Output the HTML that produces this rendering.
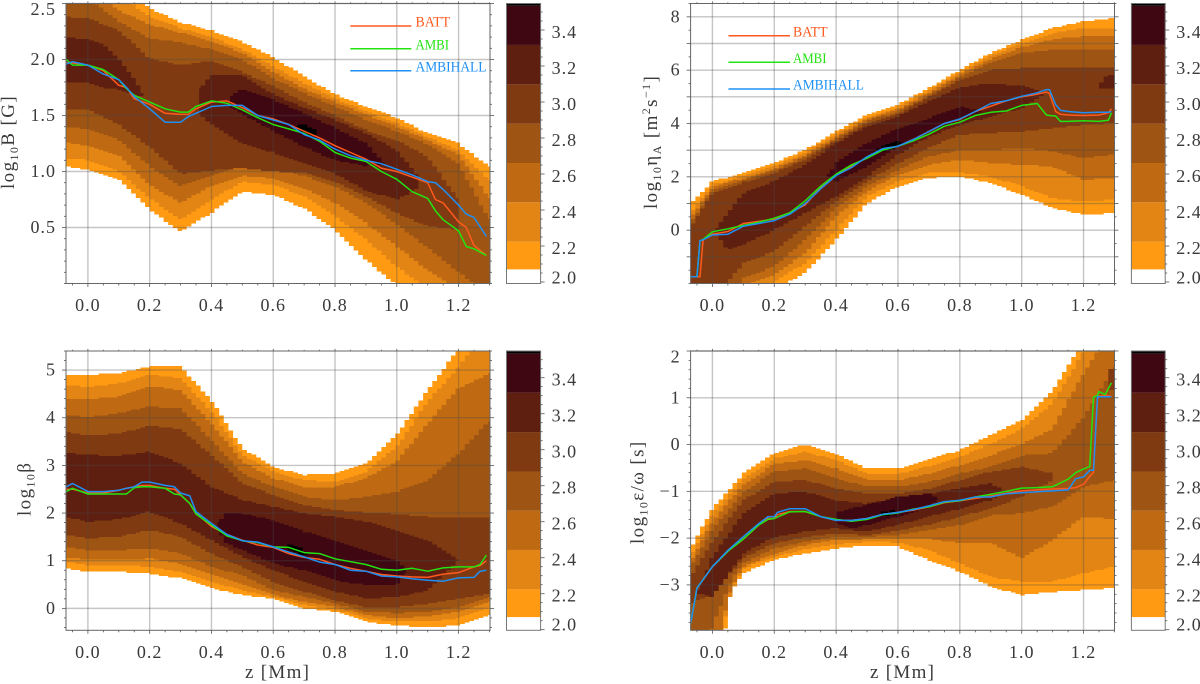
<!DOCTYPE html>
<html lang="en">
<head>
<meta charset="utf-8">
<title>Density histograms with BATT, AMBI and AMBIHALL profiles</title>
<style>
html,body{margin:0;padding:0;background:#fff;width:1200px;height:684px;overflow:hidden}
svg{display:block}
text{font-family:"Liberation Serif",serif;fill:#3a3a3a}
</style>
</head>
<body>
<svg id="figure" xmlns="http://www.w3.org/2000/svg" width="1200" height="684" viewBox="0 0 1200 684">
  <rect width="1200" height="684" fill="#fff"/>
  <text transform="translate(14,189) rotate(-90)" font-size="19" letter-spacing="1.4">log<tspan font-size="12" dy="4">10</tspan><tspan dy="-4">B [G]</tspan></text>
  <text transform="translate(656.8,209) rotate(-90)" font-size="19" letter-spacing="1.4">log<tspan font-size="12" dy="4">10</tspan><tspan dy="-4">η</tspan><tspan font-size="12" dy="4">A</tspan><tspan dy="-4"> [m</tspan><tspan font-size="12" dy="-7">2</tspan><tspan dy="7">s</tspan><tspan font-size="12" dy="-7">−1</tspan><tspan dy="7">]</tspan></text>
  <text transform="translate(30.7,516) rotate(-90)" font-size="19" letter-spacing="1.4">log<tspan font-size="12" dy="4">10</tspan><tspan dy="-4">β</tspan></text>
  <text transform="translate(643.4,544) rotate(-90)" font-size="19" letter-spacing="1.4">log<tspan font-size="12" dy="4">10</tspan><tspan dy="-4">ε/ω [s]</tspan></text>
  <text x="277" y="678" font-size="19" text-anchor="middle" textLength="64">z [Mm]</text>
  <text x="902" y="678" font-size="19" text-anchor="middle" textLength="64">z [Mm]</text>
</svg>
<script>
/* ---------- colour levels and colour-bar scale ---------- */
const levelColors = ['#ff9a12','#e28515','#bf6a12','#9e5412','#7f3a12','#5e1e10','#3f0712','#000000'];
const barEdges = [2.07,2.224,2.443,2.661,2.879,3.098,3.317,3.535,3.547];
const barTicks = [2.0,2.2,2.4,2.6,2.8,3.0,3.2,3.4];
const zTicks = [0,0.2,0.4,0.6,0.8,1.0,1.2];

/* ---------- panel 1: log10 B ---------- */
const tlGrid = [0.5,1,1.5,2,2.5];
const tlLabels = [0.5,1,1.5,2,2.5];
const tlZ = [-0.07,0,0.1,0.2,0.3,0.4,0.5,0.6,0.7,0.8,0.9,1.0,1.1,1.2,1.3];
const tlHi0 = [3.0,2.9,2.68,2.46,2.33,2.26,2.16,2.02,1.85,1.69,1.58,1.48,1.34,1.25,1.04];
const tlLo0 = [1.05,1.01,0.93,0.66,0.46,0.63,0.82,0.79,0.67,0.48,0.21,-0.02,-0.3,-0.5,-0.7];
const tlHi1 = [2.85,2.78,2.58,2.38,2.28,2.2,2.09,1.94,1.79,1.65,1.54,1.43,1.31,1.19,0.92];
const tlLo1 = [1.12,1.1,1.0,0.76,0.57,0.75,0.91,0.88,0.78,0.6,0.39,0.15,-0.05,-0.2,-0.4];
const tlHi2 = [2.75,2.68,2.44,2.31,2.24,2.16,2.06,1.89,1.74,1.62,1.51,1.4,1.28,1.15,0.76];
const tlLo2 = [1.26,1.23,1.14,0.88,0.72,0.87,0.96,0.94,0.85,0.72,0.54,0.33,0.12,-0.05,-0.2];
const tlHi3 = [2.6,2.55,2.34,2.19,2.15,2.09,2.0,1.83,1.7,1.58,1.46,1.36,1.24,1.07,0.56];
const tlLo3 = [1.4,1.38,1.28,1.05,0.87,0.96,1.05,1.03,0.96,0.87,0.72,0.53,0.32,0.1,-0.1];
const tlZ4 = [-0.07,0,0.1,0.2,0.3,0.4,0.5,0.6,0.7,0.8,0.9,1.0,1.1,1.2];
const tlHi4 = [2.38,2.37,2.26,2.01,1.95,1.99,1.89,1.76,1.62,1.5,1.37,1.28,1.13,0.75];
const tlLo4 = [1.56,1.55,1.42,1.22,0.98,1.01,1.03,1.0,0.99,0.91,0.78,0.63,0.51,0.48];
const tlZ5a = [-0.07,0,0.05,0.1,0.15,0.18];
const tlHi5a = [2.2,2.18,2.13,2.01,1.82,1.68];
const tlLo5a = [1.8,1.79,1.75,1.73,1.68,1.67];
const tlZ5b = [0.36,0.4,0.5,0.6,0.7,0.8,0.9,1.0,1.07];
const tlHi5b = [1.73,1.86,1.86,1.69,1.57,1.46,1.34,1.19,0.95];
const tlLo5b = [1.52,1.42,1.25,1.17,1.07,0.98,0.83,0.75,0.85];
const tlZ6 = [0.46,0.5,0.6,0.7,0.8,0.9,0.96];
const tlHi6 = [1.67,1.74,1.64,1.52,1.39,1.25,1.07];
const tlLo6 = [1.58,1.51,1.36,1.22,1.1,1.05,1.07];
const tlZ7 = [0.67,0.7,0.73,0.74];
const tlHi7 = [1.41,1.42,1.38,1.36];
const tlLo7 = [1.39,1.33,1.32,1.36];
const tlLineZ = [-0.07,-0.05,0,0.05,0.1,0.125,0.15,0.2,0.25,0.3,0.325,0.35,0.4,0.45,0.5,0.55,0.6,0.65,0.7,0.75,0.8,0.85,0.9,0.95,1.0,1.05,1.1,1.125,1.15,1.2,1.225,1.25,1.29];
const tlBatt = [1.97,1.97,1.95,1.9,1.77,1.75,1.65,1.6,1.52,1.51,1.51,1.56,1.62,1.63,1.57,1.5,1.47,1.42,1.36,1.3,1.23,1.17,1.11,1.03,1.0,0.95,0.9,0.75,0.72,0.55,0.5,0.34,0.25];
const tlAmbi = [2.0,1.95,1.95,1.91,1.82,1.74,1.68,1.62,1.56,1.53,1.53,1.58,1.63,1.61,1.55,1.48,1.42,1.38,1.34,1.27,1.17,1.12,1.09,1.0,0.93,0.82,0.76,0.65,0.57,0.47,0.33,0.31,0.25];
const tlHall = [1.96,1.98,1.95,1.87,1.82,1.75,1.67,1.56,1.44,1.44,1.49,1.52,1.58,1.59,1.59,1.5,1.46,1.42,1.33,1.28,1.2,1.14,1.1,1.07,1.02,0.97,0.91,0.9,0.84,0.7,0.62,0.59,0.42];

/* ---------- panel 2: log10 eta_A ---------- */
const trGrid = [-1,0,1,2,3,4,5,6,7,8];
const trLabels = [0,2,4,6,8];
const trZ = [-0.07,0,0.1,0.2,0.3,0.4,0.5,0.6,0.7,0.8,0.9,1.0,1.1,1.2,1.3];
const trHi0 = [1.01,1.83,2.14,2.51,3.01,3.7,4.33,4.7,5.33,6.01,6.64,7.14,7.58,7.83,7.95];
const trLo0 = [-3.9,-3.9,-3.9,-2.24,-1.61,-0.36,1.01,1.64,1.95,2.01,1.76,1.33,0.83,0.58,0.64];
const trHi1 = [0.64,1.7,2.04,2.41,2.91,3.6,4.24,4.61,5.24,5.91,6.54,7.01,7.39,7.58,7.58];
const trLo1 = [-3.9,-3.9,-3.9,-1.93,-1.24,0.01,1.26,1.83,2.14,2.16,2.01,1.64,1.2,1.08,1.14];
const trHi2 = [0.45,1.6,1.95,2.31,2.81,3.5,4.16,4.51,5.15,5.83,6.41,6.86,7.16,7.26,7.26];
const trLo2 = [-3.9,-3.9,-2.11,-1.68,-0.86,0.51,1.45,2.08,2.45,2.64,2.51,2.45,2.39,1.89,1.95];
const trHi3 = [0.26,1.49,1.89,2.24,2.74,3.43,4.09,4.44,5.06,5.74,6.29,6.64,6.76,6.76,6.76];
const trLo3 = [-3.9,-3.9,-1.8,-1.36,-0.36,0.83,1.64,2.26,2.76,3.01,3.01,3.08,2.95,2.7,2.83];
const trHi4 = [0.14,1.39,1.79,2.14,2.64,3.35,4.01,4.36,4.99,5.64,6.01,6.08,6.08,6.08,6.08];
const trLo4 = [-3.9,-2.6,-1.24,-0.8,0.14,1.08,1.83,2.51,3.08,3.58,3.64,3.7,3.83,3.95,4.01];
const trZ5a = [0.01,0.05,0.1,0.2,0.3,0.4,0.5,0.6,0.7,0.8,0.9,1.0,1.08];
const trHi5a = [0.01,0.64,1.39,1.83,2.45,3.26,3.89,4.26,4.83,5.36,5.51,5.41,5.16];
const trLo5a = [-0.11,-0.74,-0.55,0.01,0.64,1.26,2.01,2.83,3.51,3.95,4.26,4.58,5.16];
const trZ5b = [1.25,1.27,1.3];
const trHi5b = [5.4,5.75,5.85];
const trLo5b = [5.3,5.3,5.3];
const trZ6 = [0.37,0.4,0.5,0.6,0.7,0.8,0.87];
const trHi6 = [2.01,2.51,3.26,3.83,4.2,4.64,4.45];
const trLo6 = [2.01,1.83,2.39,3.14,3.7,4.08,4.45];
const trZ7 = [0.52,0.55,0.6,0.62];
const trHi7 = [2.89,3.14,3.33,3.3];
const trLo7 = [2.89,2.95,3.1,3.3];
const trLineZ = [-0.07,-0.05,-0.04,-0.03,0,0.05,0.1,0.15,0.2,0.25,0.3,0.35,0.4,0.45,0.5,0.55,0.6,0.65,0.7,0.75,0.8,0.85,0.9,0.95,1.0,1.05,1.08,1.09,1.11,1.125,1.15,1.2,1.25,1.28,1.29];
const trBatt = [-1.75,-1.75,-1.75,-0.35,-0.15,-0.05,0.25,0.33,0.42,0.65,0.95,1.6,2.05,2.4,2.72,3.05,3.15,3.4,3.7,4.0,4.15,4.45,4.65,4.85,5.0,5.1,5.18,5.12,4.45,4.35,4.32,4.3,4.32,4.4,4.55];
const trAmbi = [-1.75,-1.75,-0.4,-0.35,-0.06,0.05,0.18,0.3,0.45,0.65,1.1,1.65,2.1,2.45,2.7,3.0,3.15,3.35,3.6,3.9,4.05,4.3,4.42,4.47,4.68,4.75,4.32,4.3,4.28,4.08,4.08,4.1,4.08,4.12,4.4];
const trHall = [-1.75,-1.75,-0.39,-0.36,-0.18,-0.15,0.15,0.25,0.36,0.6,1.0,1.55,2.05,2.35,2.75,3.05,3.15,3.4,3.7,4.0,4.17,4.45,4.75,4.85,5.02,5.15,5.27,5.27,4.7,4.5,4.45,4.4,4.42,4.42,4.45];

/* ---------- panel 3: log10 beta ---------- */
const blGrid = [0,1,2,3,4,5];
const blLabels = [0,1,2,3,4,5];
const blZ = [-0.07,0,0.1,0.2,0.3,0.4,0.5,0.6,0.7,0.8,0.9,1.0,1.1,1.2,1.3];
const blHi0 = [4.9,4.9,4.94,5.07,5.07,4.37,3.36,2.97,2.8,2.83,3.04,3.64,4.58,5.45,5.8];
const blLo0 = [0.84,0.77,0.77,0.73,0.63,0.42,0.28,0.21,0,-0.07,-0.28,-0.36,-0.4,-0.36,-0.14];
const blHi1 = [4.69,4.65,4.72,4.9,4.83,4.13,3.22,2.87,2.69,2.66,2.87,3.39,4.34,5.07,5.9];
const blLo1 = [0.98,0.91,0.91,0.87,0.77,0.56,0.38,0.24,0.07,-0.02,-0.21,-0.28,-0.28,-0.21,0.03];
const blHi2 = [4.41,4.39,4.44,4.66,4.58,3.88,3.08,2.73,2.55,2.55,2.73,3.08,3.88,4.62,4.93];
const blLo2 = [1.08,1.01,1.01,1.05,0.94,0.7,0.52,0.28,0.14,0.03,-0.14,-0.21,-0.17,-0.07,0.14];
const blHi3 = [4.06,4.01,4.1,4.23,4.2,3.53,2.83,2.55,2.34,2.27,2.34,2.45,2.69,3.25,3.95];
const blLo3 = [1.29,1.22,1.22,1.26,1.15,0.87,0.7,0.38,0.24,0.1,-0.07,-0.1,-0.07,0.03,0.24];
const blHi4 = [3.71,3.62,3.67,3.83,3.76,3.22,2.62,2.38,2.17,2.06,2.01,1.98,1.92,1.92,1.92];
const blLo4 = [1.54,1.47,1.5,1.64,1.5,1.15,0.87,0.56,0.35,0.17,0.03,0.03,0.1,0.21,0.31];
const blZ5 = [-0.07,0,0.1,0.2,0.3,0.4,0.5,0.6,0.7,0.8,0.9,1.0,1.1,1.2];
const blHi5 = [3.27,3.22,3.2,3.29,3.04,2.55,2.27,2.13,1.99,1.92,1.82,1.64,1.43,1.01];
const blLo5 = [1.92,1.82,1.87,2.03,1.78,1.43,1.08,0.8,0.56,0.35,0.21,0.24,0.38,1.01];
const blZ6 = [0.42,0.45,0.5,0.6,0.7,0.8,0.9,1.0,1.03];
const blHi6 = [1.78,2.01,1.99,1.85,1.61,1.43,1.22,1.01,0.8];
const blLo6 = [1.64,1.36,1.22,0.94,0.8,0.59,0.49,0.49,0.75];
const blZ7 = [0.645,0.66,0.69,0.71];
const blHi7 = [1.35,1.35,1.26,1.15];
const blLo7 = [1.26,1.22,1.12,1.1];
const blLineZ = [-0.07,-0.05,0,0.05,0.1,0.125,0.15,0.175,0.2,0.25,0.28,0.3,0.33,0.35,0.4,0.45,0.5,0.55,0.6,0.65,0.7,0.75,0.8,0.85,0.9,0.95,1.0,1.05,1.1,1.15,1.2,1.25,1.27,1.29];
const blBatt = [2.5,2.5,2.42,2.42,2.48,2.52,2.55,2.58,2.58,2.52,2.5,2.38,2.2,2.0,1.72,1.55,1.43,1.33,1.28,1.15,1.07,1.03,0.92,0.84,0.78,0.71,0.68,0.66,0.65,0.72,0.75,0.87,0.9,1.0];
const blAmbi = [2.45,2.52,2.4,2.4,2.4,2.4,2.53,2.55,2.55,2.52,2.4,2.38,2.2,1.98,1.75,1.52,1.42,1.38,1.29,1.28,1.17,1.15,1.04,0.98,0.92,0.82,0.8,0.84,0.78,0.85,0.87,0.87,0.92,1.12];
const blHall = [2.55,2.62,2.45,2.45,2.48,2.52,2.55,2.65,2.65,2.58,2.55,2.42,2.36,2.03,1.78,1.55,1.42,1.39,1.29,1.18,1.08,0.97,0.92,0.8,0.78,0.68,0.66,0.62,0.59,0.57,0.64,0.65,0.78,0.8];

/* ---------- panel 4: log10 epsilon/omega ---------- */
const brGrid = [-3,-2,-1,0,1,2];
const brLabels = [-3,-2,-1,0,1,2];
const brZ = [-0.07,0,0.1,0.2,0.3,0.4,0.5,0.6,0.7,0.8,0.9,1.0,1.1,1.2,1.3];
const brZLo = [-0.07,0.03,0.05,0.07,0.1,0.2,0.3,0.4,0.5,0.6,0.7,0.8,0.9,1.0,1.1,1.2,1.3];
const brHi0 = [-2.22,-1.37,-0.62,-0.19,0,-0.19,-0.51,-0.51,-0.32,-0.12,0.2,0.52,1.16,2.2,3.0];
const brLo0 = [-6,-5,-3.3,-3.05,-2.75,-2.47,-2.33,-2.22,-2.15,-2.18,-2.47,-2.72,-3.04,-3.22,-3.15,-3.11,-3.07];
const brHi1 = [-2.4,-1.51,-0.73,-0.3,-0.16,-0.33,-0.62,-0.63,-0.46,-0.26,0.02,0.34,0.88,1.99,2.94];
const brLo1 = [-6,-4.1,-3.4,-3.0,-2.65,-2.4,-2.24,-2.13,-2.08,-2.09,-2.26,-2.54,-2.83,-2.93,-2.93,-2.75,-2.61];
const brHi2 = [-2.5,-1.65,-0.85,-0.42,-0.33,-0.51,-0.75,-0.76,-0.62,-0.44,-0.23,0.02,0.34,1.52,2.58];
const brLo2 = [-6,-3.97,-3.3,-2.95,-2.61,-2.33,-2.15,-2.04,-2.02,-2.01,-2.01,-2.11,-2.11,-2.43,-2.04,-1.54,-1.6];
const brHi3 = [-2.61,-1.83,-1.01,-0.58,-0.51,-0.73,-0.9,-0.9,-0.8,-0.62,-0.48,-0.23,-0.19,0.59,1.66];
const brLo3 = [-5,-3.4,-3.05,-2.8,-2.53,-2.22,-2.08,-1.97,-1.97,-1.94,-1.83,-1.72,-1.51,-1.47,-1.33,-0.9,-0.76];
const brZ4 = [-0.07,0,0.1,0.2,0.3,0.4,0.5,0.6,0.7,0.8,0.9,1.0,1.1];
const brHi4 = [-2.83,-2.08,-1.19,-0.8,-0.76,-0.94,-1.05,-1.05,-0.94,-0.76,-0.58,-0.48,-0.62];
const brLo4 = [-3.4,-3.2,-2.43,-2.11,-1.97,-1.9,-1.94,-1.83,-1.72,-1.54,-1.37,-1.12,-0.76];
const brZ4b = [1.28,1.3];
const brHi4b = [1.62,1.62];
const brLo4b = [1.16,1.16];
const brZ5 = [-0.05,0,0.1,0.2,0.3,0.4,0.5,0.6,0.7,0.8,0.9,0.95];
const brHi5 = [-3.18,-2.4,-1.47,-1.05,-1.01,-1.19,-1.26,-1.15,-1.05,-0.94,-0.83,-1.01];
const brLo5 = [-3.18,-3.25,-2.33,-1.97,-1.86,-1.79,-1.86,-1.72,-1.54,-1.37,-1.19,-1.01];
const brZ6 = [0.4,0.45,0.5,0.6,0.7,0.73];
const brHi6 = [-1.44,-1.37,-1.29,-1.12,-1.05,-1.15];
const brLo6 = [-1.69,-1.79,-1.72,-1.54,-1.33,-1.15];
const brZ7 = [0.53,0.55,0.58,0.6];
const brHi7 = [-1.51,-1.44,-1.4,-1.44];
const brLo7 = [-1.51,-1.54,-1.51,-1.44];
const brLineZ = [-0.07,-0.05,0,0.05,0.1,0.15,0.18,0.2,0.21,0.25,0.3,0.35,0.4,0.45,0.5,0.55,0.6,0.65,0.7,0.75,0.8,0.85,0.9,0.95,1.0,1.05,1.1,1.15,1.175,1.2,1.22,1.232,1.245,1.25,1.27,1.29];
const brBatt = [-3.82,-3.07,-2.61,-2.28,-2.02,-1.72,-1.58,-1.58,-1.5,-1.43,-1.43,-1.54,-1.62,-1.62,-1.58,-1.49,-1.45,-1.4,-1.33,-1.24,-1.2,-1.15,-1.1,-1.04,-0.99,-0.97,-0.95,-0.94,-0.92,-0.85,-0.68,-0.6,1.0,1.03,1.05,1.03];
const brAmbi = [-3.82,-3.07,-2.61,-2.28,-2.02,-1.72,-1.6,-1.58,-1.55,-1.44,-1.43,-1.54,-1.6,-1.64,-1.6,-1.5,-1.46,-1.38,-1.33,-1.23,-1.2,-1.12,-1.06,-1.0,-0.93,-0.92,-0.9,-0.74,-0.6,-0.52,-0.47,1.01,1.05,1.13,1.07,1.32];
const brHall = [-3.82,-3.07,-2.61,-2.26,-1.97,-1.69,-1.54,-1.54,-1.45,-1.37,-1.37,-1.54,-1.62,-1.62,-1.58,-1.49,-1.45,-1.39,-1.31,-1.22,-1.19,-1.12,-1.12,-1.05,-1.03,-1.01,-0.99,-0.97,-0.73,-0.69,-0.55,-0.55,1.02,1.02,1.02,1.02];

/* ---------- panel layout and series wiring ---------- */
const panels = [
 {key:'log-b',left:66,right:490,z0:87.9,zs:308.9,top:3.5,bottom:283.5,ymin:0,ymax:2.5,minor:0.1,dec:1,grid:tlGrid,labels:tlLabels,barL:506.5,barR:540.6,barTick3:30,
  bands:[[0,tlZ,tlHi0,tlZ,tlLo0],[1,tlZ,tlHi1,tlZ,tlLo1],[2,tlZ,tlHi2,tlZ,tlLo2],[3,tlZ,tlHi3,tlZ,tlLo3],[4,tlZ4,tlHi4,tlZ4,tlLo4],[5,tlZ5a,tlHi5a,tlZ5a,tlLo5a],[5,tlZ5b,tlHi5b,tlZ5b,tlLo5b],[6,tlZ6,tlHi6,tlZ6,tlLo6],[7,tlZ7,tlHi7,tlZ7,tlLo7]],
  lineZ:tlLineZ,batt:tlBatt,ambi:tlAmbi,hall:tlHall},
 {key:'log-eta',left:690.6,right:1114.5,z0:712.4,zs:309.3,top:3.5,bottom:283.5,ymin:-2,ymax:8.5,minor:0.5,dec:0,grid:trGrid,labels:trLabels,barL:1131.4,barR:1165.2,barTick3:30,
  bands:[[0,trZ,trHi0,trZ,trLo0],[1,trZ,trHi1,trZ,trLo1],[2,trZ,trHi2,trZ,trLo2],[3,trZ,trHi3,trZ,trLo3],[4,trZ,trHi4,trZ,trLo4],[5,trZ5a,trHi5a,trZ5a,trLo5a],[5,trZ5b,trHi5b,trZ5b,trLo5b],[6,trZ6,trHi6,trZ6,trLo6],[7,trZ7,trHi7,trZ7,trLo7]],
  lineZ:trLineZ,batt:trBatt,ambi:trAmbi,hall:trHall},
 {key:'log-beta',left:66,right:490,z0:87.9,zs:308.9,top:351,bottom:630.3,ymin:-0.46,ymax:5.4,minor:0.2,dec:0,grid:blGrid,labels:blLabels,barL:506.5,barR:540.6,barTick3:377.7,
  bands:[[0,blZ,blHi0,blZ,blLo0],[1,blZ,blHi1,blZ,blLo1],[2,blZ,blHi2,blZ,blLo2],[3,blZ,blHi3,blZ,blLo3],[4,blZ,blHi4,blZ,blLo4],[5,blZ5,blHi5,blZ5,blLo5],[6,blZ6,blHi6,blZ6,blLo6],[7,blZ7,blHi7,blZ7,blLo7]],
  lineZ:blLineZ,batt:blBatt,ambi:blAmbi,hall:blHall},
 {key:'log-epsilon-omega',left:690.6,right:1114.5,z0:712.4,zs:309.3,top:351,bottom:630.3,ymin:-3.97,ymax:2,minor:0.2,dec:0,grid:brGrid,labels:brLabels,barL:1131.4,barR:1165.2,barTick3:377.7,
  bands:[[0,brZ,brHi0,brZLo,brLo0],[1,brZ,brHi1,brZLo,brLo1],[2,brZ,brHi2,brZLo,brLo2],[3,brZ,brHi3,brZLo,brLo3],[4,brZ4,brHi4,brZ4,brLo4],[4,brZ4b,brHi4b,brZ4b,brLo4b],[5,brZ5,brHi5,brZ5,brLo5],[6,brZ6,brHi6,brZ6,brLo6],[7,brZ7,brHi7,brZ7,brLo7]],
  lineZ:brLineZ,batt:brBatt,ambi:brAmbi,hall:brHall}
];

const NS = 'http://www.w3.org/2000/svg';
const root = document.getElementById('figure');
function mk(parent, tag, attrs) {
  const el = document.createElementNS(NS, tag);
  for (const k in attrs) el.setAttribute(k, attrs[k]);
  parent.appendChild(el);
  return el;
}
function interp(xs, ys, x) {
  if (x <= xs[0]) return ys[0];
  const n = xs.length - 1;
  if (x >= xs[n]) return ys[n];
  for (let i = 0; i < n; i++) {
    if (x <= xs[i + 1]) {
      const t = (x - xs[i]) / (xs[i + 1] - xs[i]);
      return ys[i] + t * (ys[i + 1] - ys[i]);
    }
  }
  return ys[n];
}
function fmt(v, dec) {
  const s = Math.abs(v).toFixed(dec);
  return (v < 0 ? '\u2212' : '') + s;
}

const LINE_COLORS = {batt:'#ff5a1e', ambi:'#22e410', hall:'#1e90f5'};
const COL = 0.015;

panels.forEach(function (p, pi) {
  const X = function (z) { return p.z0 + p.zs * z; };
  const Y = function (v) { return p.bottom - (v - p.ymin) / (p.ymax - p.ymin) * (p.bottom - p.top); };
  const clampY = function (y) { return Math.min(p.bottom, Math.max(p.top, y)); };
  const g = mk(root, 'g', {});
  
  

  const clipId = 'clip' + pi;
  const defs = mk(g, 'defs', {});
  const cp = mk(defs, 'clipPath', {id: clipId});
  mk(cp, 'rect', {x: p.left, y: p.top, width: p.right - p.left, height: p.bottom - p.top});

  /* density bands */
  const bandGroup = mk(g, 'g', {'clip-path': 'url(#' + clipId + ')'});
  
  
  p.bands.forEach(function (b) {
    const zHi = b[1], hi = b[2], zLo = b[3], lo = b[4];
    const zA = Math.max(zHi[0], zLo[0]);
    const zB = Math.min(zHi[zHi.length - 1], zLo[zLo.length - 1]);
    const top = [], bot = [];
    const start = Math.floor((zA + 0.07) / COL);
    for (let i = start; ; i++) {
      const a = -0.07 + i * COL, c = a + COL;
      const left = Math.max(a, zA), right = Math.min(c, zB);
      if (left >= zB) break;
      const mid = (left + right) / 2;
      const yh = clampY(Math.round(Y(interp(zHi, hi, mid)) / 1.5) * 1.5);
      const yl = clampY(Math.round(Y(interp(zLo, lo, mid)) / 1.5) * 1.5);
      top.push([X(left), X(right), yh]);
      bot.push([X(left), X(right), yl]);
    }
    if (!top.length) return;
    let d = 'M' + top[0][0].toFixed(1) + ' ' + top[0][2];
    top.forEach(function (s) { d += 'L' + s[0].toFixed(1) + ' ' + s[2] + 'L' + s[1].toFixed(1) + ' ' + s[2]; });
    bot.reverse().forEach(function (s) { d += 'L' + s[1].toFixed(1) + ' ' + s[2] + 'L' + s[0].toFixed(1) + ' ' + s[2]; });
    d += 'Z';
    const path = mk(bandGroup, 'path', {d: d, fill: levelColors[b[0]]});
    
    
  });

  /* grid */
  const gridGroup = mk(g, 'g', {stroke: '#4a4a4a', 'stroke-opacity': '0.32', 'stroke-width': '1.4'});
  
  
  zTicks.forEach(function (z) {
    mk(gridGroup, 'line', {x1: X(z), x2: X(z), y1: p.top, y2: p.bottom});
  });
  p.grid.forEach(function (v) {
    mk(gridGroup, 'line', {x1: p.left, x2: p.right, y1: Y(v), y2: Y(v)});
  });

  /* series */
  [['batt', p.batt], ['ambi', p.ambi], ['hall', p.hall]].forEach(function (s) {
    let pts = '';
    p.lineZ.forEach(function (z, i) { pts += X(z).toFixed(1) + ',' + Y(s[1][i]).toFixed(1) + ' '; });
    const line = mk(g, 'polyline', {points: pts, fill: 'none', stroke: LINE_COLORS[s[0]], 'stroke-width': '1.5', 'stroke-linejoin': 'round', 'clip-path': 'url(#' + clipId + ')'});
    
    
  });

  /* frame and ticks */
  const frame = mk(g, 'rect', {x: p.left, y: p.top, width: p.right - p.left, height: p.bottom - p.top, fill: 'none', stroke: '#666', 'stroke-width': '1'});
  
  

  const ticks = mk(g, 'g', {stroke: '#555', 'stroke-width': '0.8'});
  
  
  for (let n = -1; n <= 26; n++) {
    const z = n * 0.05, major = n % 4 === 0, len = major ? 3.5 : 2;
    mk(ticks, 'line', {x1: X(z), x2: X(z), y1: p.bottom, y2: p.bottom + len});
    mk(ticks, 'line', {x1: X(z), x2: X(z), y1: p.top, y2: p.top - len * 0.6});
  }
  const nMin = Math.ceil(p.ymin / p.minor - 1e-6), nMax = Math.floor(p.ymax / p.minor + 1e-6);
  for (let n = nMin; n <= nMax; n++) {
    const v = n * p.minor;
    const major = p.grid.some(function (t) { return Math.abs(t - v) < 1e-6; });
    const len = major ? 4 : 2;
    mk(ticks, 'line', {x1: p.left - len, x2: p.left, y1: Y(v), y2: Y(v)});
    mk(ticks, 'line', {x1: p.right, x2: p.right + len, y1: Y(v), y2: Y(v)});
  }

  /* tick labels */
  zTicks.forEach(function (z) {
    const t = mk(g, 'text', {x: X(z), y: p.bottom + 27.5, 'font-size': '18', 'text-anchor': 'middle', 'letter-spacing': '1'});
    
    
    t.textContent = z.toFixed(1);
  });
  p.labels.forEach(function (v) {
    const base = Math.max(Y(v) + 5.5, p.top + 11.5);
    const t = mk(g, 'text', {x: p.left - 10, y: base, 'font-size': '18', 'text-anchor': 'end', 'letter-spacing': '1'});
    
    
    t.textContent = fmt(v, p.dec);
  });

  /* colour bar */
  const bar = mk(g, 'g', {});
  
  
  const BY = function (v) { return p.barTick3 + (3.4 - v) * 180; };
  for (let i = 0; i + 1 < barEdges.length; i++) {
    const r = mk(bar, 'rect', {x: p.barL, width: p.barR - p.barL, y: BY(barEdges[i + 1]), height: BY(barEdges[i]) - BY(barEdges[i + 1]), fill: levelColors[i]});
    
    
  }
  mk(bar, 'rect', {x: p.barL, y: p.top, width: p.barR - p.barL, height: p.bottom - p.top, fill: 'none', stroke: '#777', 'stroke-width': '1'});
  for (let n = 0; n <= 30; n++) {
    const v = 2.0 + n * 0.05;
    const major = n % 4 === 0;
    mk(bar, 'line', {x1: p.barR, x2: p.barR + (major ? 4 : 2), y1: BY(v), y2: BY(v), stroke: '#555', 'stroke-width': '0.8'});
  }
  barTicks.forEach(function (v) {
    const base = Math.min(BY(v) + 8, p.bottom);
    const t = mk(bar, 'text', {x: p.barR + 11, y: base, 'font-size': '18', 'letter-spacing': '1'});
    
    
    t.textContent = v.toFixed(1);
  });
});

/* ---------- legends ---------- */
const legendNames = ['BATT','AMBI','AMBIHALL'];
const legendKeys = ['batt','ambi','hall'];
const legendWidths = [34.5,33.5,71];
const legendRows = [
  {x1:350.3,x2:411.3,tx:415.5,ys:[26,48.7,70.7]},
  {x1:728.5,x2:790,tx:793,ys:[35.7,62.3,89]}
];
legendRows.forEach(function (row) {
  const lg = mk(root, 'g', {});
  
  
  legendNames.forEach(function (name, i) {
    const c = LINE_COLORS[legendKeys[i]];
    const l = mk(lg, 'line', {x1: row.x1, x2: row.x2, y1: row.ys[i], y2: row.ys[i], stroke: c, 'stroke-width': '1.5'});
    
    
    const t = mk(lg, 'text', {x: row.tx, y: row.ys[i] + 0.7, 'font-size': '15', textLength: legendWidths[i], lengthAdjust: 'spacingAndGlyphs'});
    
    
    t.style.fill = c;
    t.textContent = name;
  });
});
</script>
</body>
</html>
